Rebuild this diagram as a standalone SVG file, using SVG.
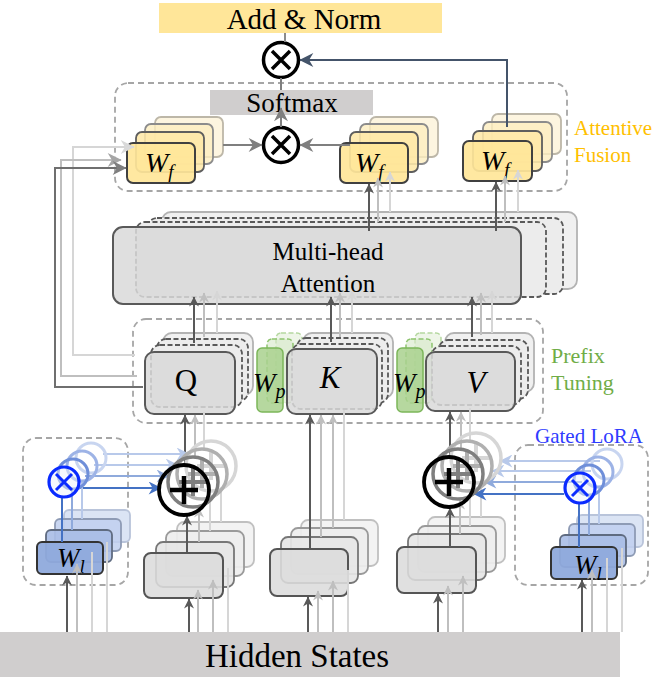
<svg xmlns="http://www.w3.org/2000/svg" width="665" height="683" viewBox="0 0 665 683">
<defs>
<style>
text{font-family:"Liberation Serif","Times New Roman",serif;}
.it{font-style:italic;}
.frg{fill:#d9d9d9;fill-opacity:.85;stroke:#595959;stroke-width:2;}
.dsh{fill:#ececec;stroke:#595959;stroke-width:1.8;stroke-dasharray:5 2.5;}
.bk4{fill:#f0f0f0;stroke:#b3b3b3;stroke-width:1.8;}
.g1{fill:#dcdcdc;fill-opacity:.88;stroke:#555;stroke-width:2;}
.g2{fill:#e6e6e6;fill-opacity:.9;stroke:#777;stroke-width:1.8;}
.g3{fill:#ededed;fill-opacity:.9;stroke:#9a9a9a;stroke-width:1.8;}
.g4{fill:#f3f3f3;stroke:#c0c0c0;stroke-width:1.8;}
.y1{fill:#ffe699;fill-opacity:.92;stroke:#404040;stroke-width:2;}
.y2{fill:#fee8a6;fill-opacity:.85;stroke:#5e5e5e;stroke-width:1.8;}
.y3{fill:#fdeebf;fill-opacity:.8;stroke:#8c8c8c;stroke-width:1.8;}
.y4{fill:#fdf3d8;fill-opacity:.8;stroke:#bdb7a8;stroke-width:1.8;}
.b1{fill:#8faadc;fill-opacity:.95;stroke:#333;stroke-width:2;}
.b2{fill:#a8bde6;fill-opacity:.9;stroke:#5f6b80;stroke-width:1.8;}
.b3{fill:#c0cfee;fill-opacity:.85;stroke:#8e9bb5;stroke-width:1.8;}
.b4{fill:#dbe4f4;stroke:#b9c4da;stroke-width:1.8;}
.ln{fill:none;stroke-width:2;}
.dk{stroke:#595959;}
.lt{stroke:#bfbfbf;}
.lt2{stroke:#d6d6d6;}
.gy{stroke:#7f7f7f;}
.bl{stroke:#4472c4;}
.bl2{stroke:#8faadc;}
.bl3{stroke:#b8c9ea;}
.grp{fill:none;stroke:#a6a6a6;stroke-width:1.8;stroke-dasharray:6 4;}
</style>
<marker id="mD" viewBox="0 0 10 10" refX="9.5" refY="5" markerWidth="11" markerHeight="10" orient="auto" markerUnits="userSpaceOnUse"><path d="M0,0 L10,5 L0,10 L3,5z" fill="#595959"/></marker>
<marker id="mL" viewBox="0 0 10 10" refX="9.5" refY="5" markerWidth="11" markerHeight="10" orient="auto" markerUnits="userSpaceOnUse"><path d="M0,0 L10,5 L0,10 L3,5z" fill="#bfbfbf"/></marker>
<marker id="mL2" viewBox="0 0 10 10" refX="9.5" refY="5" markerWidth="11" markerHeight="10" orient="auto" markerUnits="userSpaceOnUse"><path d="M0,0 L10,5 L0,10 L3,5z" fill="#d6d6d6"/></marker>
<marker id="mG" viewBox="0 0 10 10" refX="9.5" refY="5" markerWidth="15" markerHeight="14" orient="auto" markerUnits="userSpaceOnUse"><path d="M0,0 L10,5 L0,10 L3,5z" fill="#7f7f7f"/></marker>
<marker id="mGL" viewBox="0 0 10 10" refX="9.5" refY="5" markerWidth="15" markerHeight="14" orient="auto" markerUnits="userSpaceOnUse"><path d="M0,0 L10,5 L0,10 L3,5z" fill="#a6a6a6"/></marker>
<marker id="mGLL" viewBox="0 0 10 10" refX="9.5" refY="5" markerWidth="15" markerHeight="14" orient="auto" markerUnits="userSpaceOnUse"><path d="M0,0 L10,5 L0,10 L3,5z" fill="#d9d9d9"/></marker>
<marker id="mS" viewBox="0 0 10 10" refX="9.5" refY="5" markerWidth="15" markerHeight="14" orient="auto" markerUnits="userSpaceOnUse"><path d="M0,0 L10,5 L0,10 L3,5z" fill="#44546a"/></marker>
<marker id="mB" viewBox="0 0 10 10" refX="9.5" refY="5" markerWidth="14" markerHeight="13" orient="auto" markerUnits="userSpaceOnUse"><path d="M0,0 L10,5 L0,10 L3,5z" fill="#4472c4"/></marker>
<marker id="mB2" viewBox="0 0 10 10" refX="9.5" refY="5" markerWidth="14" markerHeight="13" orient="auto" markerUnits="userSpaceOnUse"><path d="M0,0 L10,5 L0,10 L3,5z" fill="#8faadc"/></marker>
<marker id="mB3" viewBox="0 0 10 10" refX="9.5" refY="5" markerWidth="14" markerHeight="13" orient="auto" markerUnits="userSpaceOnUse"><path d="M0,0 L10,5 L0,10 L3,5z" fill="#b8c9ea"/></marker>
</defs>
<rect width="665" height="683" fill="#ffffff"/>

<!-- group backgrounds -->
<g id="attentive-fusion">
<rect x="115" y="83" width="452" height="108" rx="13" fill="#fef6e2" class="grp"/>
<text x="574" y="135" font-size="21" fill="#ffc000">Attentive</text>
<text x="574" y="162" font-size="21" fill="#ffc000">Fusion</text>
</g>
<g id="prefix-tuning">
<rect x="133" y="319" width="410" height="104" rx="13" fill="#eef5e9" class="grp"/>
<text x="551" y="363" font-size="22" fill="#70ad47">Prefix</text>
<text x="551" y="390" font-size="22" fill="#70ad47">Tuning</text>
</g>
<g id="gated-lora-left">
<rect x="23" y="438" width="105" height="147" rx="13" fill="#ebf2fb" class="grp"/>
</g>
<g id="gated-lora-right">
<rect x="515" y="445" width="133" height="140" rx="13" fill="#ebf2fb" class="grp"/>
<text x="535" y="443" font-size="21" fill="#2f3cff">Gated LoRA</text>
</g>

<!-- Hidden states -->
<g id="hidden-states">
<rect x="0" y="632" width="620" height="45" fill="#d0cece"/>
<text x="297" y="667" font-size="33" text-anchor="middle" fill="#000">Hidden States</text>
</g>

<!-- Add & Norm -->
<g id="add-norm">
<rect x="159" y="3" width="283" height="30" fill="#ffe699"/>
<text x="304" y="29" font-size="29" text-anchor="middle" fill="#000">Add &amp; Norm</text>
</g>

<!-- Softmax -->
<g id="softmax">
<rect x="210" y="90" width="163" height="25" fill="#d0cece"/>
<text x="292" y="112" font-size="27" text-anchor="middle" fill="#000">Softmax</text>
</g>

<!-- multiply circles -->
<g id="mul-top">
<circle cx="281" cy="60" r="17.5" fill="#fff" stroke="#000" stroke-width="3.5"/>
<path d="M272,51 L290,69 M290,51 L272,69" stroke="#000" stroke-width="3.5"/>
</g>
<g id="mul-mid">
<circle cx="281" cy="145" r="17.5" fill="#fff" stroke="#000" stroke-width="3.5"/>
<path d="M272,136 L290,154 M290,136 L272,154" stroke="#000" stroke-width="3.5"/>
</g>

<!-- W_f stacks -->
<g id="wf-1">
<rect x="155" y="117" width="68" height="40" rx="6" class="y4"/>
<rect x="145" y="124" width="68" height="40" rx="6" class="y3"/>
<rect x="136" y="132" width="68" height="40" rx="6" class="y2"/>
<rect x="127" y="143" width="68" height="40" rx="6" class="y1"/>
<text x="145" y="172" font-size="28" class="it">W<tspan font-size="19" dy="6">f</tspan></text>
</g>
<g id="wf-2">
<rect x="370" y="117" width="68" height="40" rx="6" class="y4"/>
<rect x="360" y="124" width="68" height="40" rx="6" class="y3"/>
<rect x="350" y="132" width="68" height="40" rx="6" class="y2"/>
<rect x="340" y="143" width="68" height="40" rx="6" class="y1"/>
<text x="355" y="172" font-size="28" class="it">W<tspan font-size="19" dy="6">f</tspan></text>
</g>
<g id="wf-3">
<rect x="492" y="114" width="69" height="40" rx="6" class="y4"/>
<rect x="483" y="122" width="69" height="40" rx="6" class="y3"/>
<rect x="473" y="131" width="69" height="40" rx="6" class="y2"/>
<rect x="463" y="141" width="69" height="40" rx="6" class="y1"/>
<text x="481" y="170" font-size="28" class="it">W<tspan font-size="19" dy="6">f</tspan></text>
</g>

<!-- Multi-head attention -->
<g id="mha">
<rect x="162" y="212" width="415" height="77" rx="9" class="bk4"/>
<rect x="148" y="218" width="415" height="76" rx="9" class="dsh"/>
<rect x="136" y="222" width="410" height="75" rx="9" class="dsh"/>
<rect x="113" y="227" width="408" height="77" rx="10" class="frg"/>
<text x="328" y="260" font-size="25" text-anchor="middle">Multi-head</text>
<text x="328" y="292" font-size="25" text-anchor="middle">Attention</text>
</g>

<!-- Q K V -->
<g id="q">
<rect x="163" y="333" width="90" height="62" rx="9" class="bk4"/>
<rect x="157" y="339" width="91" height="62" rx="9" class="dsh"/>
<rect x="151" y="345" width="91" height="62" rx="9" class="dsh"/>
<rect x="145" y="352" width="90" height="62" rx="9" class="frg"/>
<text x="186" y="391" font-size="31" text-anchor="middle">Q</text>
</g>
<g id="wp-1">
<rect x="276" y="333" width="26" height="64" rx="5" fill="#e2efd9" fill-opacity=".6" stroke="#b5d8a0" stroke-width="1.5" stroke-dasharray="5 2.5"/>
<rect x="267" y="339" width="26" height="64" rx="5" fill="#d5e8c8" fill-opacity=".6" stroke="#8ec46f" stroke-width="1.5" stroke-dasharray="5 2.5"/>
<rect x="257" y="348" width="26" height="64" rx="5" fill="#a9d18e" fill-opacity=".85" stroke="#7cb65a" stroke-width="1.5"/>
</g>
<g id="k">
<rect x="303" y="333" width="90" height="65" rx="9" class="bk4"/>
<rect x="297" y="338" width="91" height="65" rx="9" class="dsh"/>
<rect x="292" y="344" width="90" height="65" rx="9" class="dsh"/>
<rect x="287" y="349" width="90" height="65" rx="9" class="frg"/>
<text x="330" y="388" font-size="31" text-anchor="middle" class="it">K</text>
</g>
<g id="wp-2">
<rect x="415" y="333" width="26" height="64" rx="5" fill="#e2efd9" fill-opacity=".6" stroke="#b5d8a0" stroke-width="1.5" stroke-dasharray="5 2.5"/>
<rect x="406" y="339" width="26" height="64" rx="5" fill="#d5e8c8" fill-opacity=".6" stroke="#8ec46f" stroke-width="1.5" stroke-dasharray="5 2.5"/>
<rect x="397" y="348" width="26" height="64" rx="5" fill="#a9d18e" fill-opacity=".85" stroke="#7cb65a" stroke-width="1.5"/>
</g>
<g id="v">
<rect x="445" y="333" width="89" height="59" rx="9" class="bk4"/>
<rect x="439" y="340" width="89" height="59" rx="9" class="dsh"/>
<rect x="432" y="346" width="89" height="59" rx="9" class="dsh"/>
<rect x="426" y="352" width="89" height="59" rx="9" class="frg"/>
<text x="476" y="393" font-size="31" text-anchor="middle" class="it">V</text>
</g>
<g id="wp-labels">
<text x="253" y="392" font-size="27" class="it">W<tspan font-size="20" dy="6">p</tspan></text>
<text x="393" y="392" font-size="27" class="it">W<tspan font-size="20" dy="6">p</tspan></text>
</g>

<!-- bottom gray stacks -->
<g id="proj-q">
<rect x="177" y="522" width="77" height="45" rx="7" class="g4"/>
<rect x="166" y="531" width="78" height="45" rx="7" class="g3"/>
<rect x="156" y="542" width="78" height="45" rx="7" class="g2"/>
<rect x="144" y="553" width="79" height="45" rx="7" class="g1"/>
</g>
<g id="proj-k">
<rect x="301" y="520" width="77" height="46" rx="7" class="g4"/>
<rect x="291" y="528" width="77" height="46" rx="7" class="g3"/>
<rect x="281" y="537" width="77" height="46" rx="7" class="g2"/>
<rect x="270" y="549" width="78" height="47" rx="7" class="g1"/>
</g>
<g id="proj-v">
<rect x="428" y="517" width="77" height="46" rx="7" class="g4"/>
<rect x="418" y="526" width="78" height="46" rx="7" class="g3"/>
<rect x="408" y="534" width="78" height="46" rx="7" class="g2"/>
<rect x="397" y="547" width="79" height="46" rx="7" class="g1"/>
</g>

<!-- W_l stacks -->
<g id="wl-left">
<rect x="64" y="510" width="66" height="32" rx="5" class="b4"/>
<rect x="55" y="519" width="66" height="32" rx="5" class="b3"/>
<rect x="46" y="530" width="66" height="32" rx="5" class="b2"/>
<rect x="37" y="542" width="66" height="32" rx="5" class="b1"/>
<text x="57" y="567" font-size="27" class="it">W<tspan font-size="19" dy="6">l</tspan></text>
</g>
<g id="wl-right">
<rect x="577" y="515" width="66" height="32" rx="5" class="b4"/>
<rect x="569" y="524" width="66" height="32" rx="5" class="b3"/>
<rect x="560" y="535" width="66" height="32" rx="5" class="b2"/>
<rect x="551" y="547" width="66" height="32" rx="5" class="b1"/>
<text x="574" y="574" font-size="27" class="it">W<tspan font-size="19" dy="6">l</tspan></text>
</g>

<!-- connectors -->
<g id="connectors" class="ln">
<!-- hidden states up -->
<line x1="67" y1="632" x2="67" y2="576" class="ln dk" marker-end="url(#mD)"/>
<line x1="77" y1="632" x2="77" y2="564" class="ln lt" marker-end="url(#mL)"/>
<line x1="92" y1="632" x2="92" y2="552" class="ln lt2"/>
<line x1="107" y1="632" x2="107" y2="542" class="ln lt2"/>
<line x1="189" y1="632" x2="189" y2="599" class="ln dk" marker-end="url(#mD)"/>
<line x1="198" y1="632" x2="198" y2="590" class="ln lt" marker-end="url(#mL)"/>
<line x1="213" y1="632" x2="213" y2="580" class="ln lt" marker-end="url(#mL)"/>
<line x1="228" y1="632" x2="228" y2="568" class="ln lt2"/>
<line x1="308" y1="632" x2="308" y2="597" class="ln dk" marker-end="url(#mD)"/>
<line x1="318" y1="632" x2="318" y2="591" class="ln lt" marker-end="url(#mL)"/>
<line x1="333" y1="632" x2="333" y2="581" class="ln lt" marker-end="url(#mL)"/>
<line x1="348" y1="632" x2="348" y2="570" class="ln lt2"/>
<line x1="438" y1="632" x2="438" y2="594" class="ln dk" marker-end="url(#mD)"/>
<line x1="448" y1="632" x2="448" y2="586" class="ln lt" marker-end="url(#mL)"/>
<line x1="463" y1="632" x2="463" y2="576" class="ln lt" marker-end="url(#mL)"/>
<line x1="582" y1="632" x2="582" y2="580" class="ln dk" marker-end="url(#mD)"/>
<line x1="592" y1="632" x2="592" y2="570" class="ln lt" marker-end="url(#mL)"/>
<line x1="607" y1="632" x2="607" y2="558" class="ln lt2"/>
<line x1="622" y1="632" x2="622" y2="548" class="ln lt2"/>
<!-- stacks to plus -->
<line x1="187" y1="552" x2="187" y2="516" class="ln dk" marker-end="url(#mD)"/>
<line x1="199" y1="542" x2="199" y2="508" class="ln lt" marker-end="url(#mL)"/>
<line x1="210" y1="531" x2="210" y2="500" class="ln lt2"/>
<line x1="221" y1="522" x2="221" y2="492" class="ln lt2"/>
<line x1="450" y1="547" x2="450" y2="508" class="ln dk" marker-end="url(#mD)"/>
<line x1="460" y1="534" x2="460" y2="500" class="ln lt" marker-end="url(#mL)"/>
<line x1="470" y1="526" x2="470" y2="490" class="ln lt2"/>
<line x1="481" y1="517" x2="481" y2="482" class="ln lt2"/>
<!-- K stack to K -->
<line x1="310" y1="548" x2="310" y2="415" class="ln dk" marker-end="url(#mD)"/>
<line x1="321" y1="537" x2="321" y2="415" class="ln lt" marker-end="url(#mL)"/>
<line x1="333" y1="528" x2="333" y2="415" class="ln lt" marker-end="url(#mL)"/>
<line x1="344" y1="520" x2="344" y2="410" class="ln lt2"/>
<!-- plus to Q / V -->
<line x1="185" y1="464" x2="185" y2="415" class="ln dk" marker-end="url(#mD)"/>
<line x1="195" y1="456" x2="195" y2="415" class="ln lt" marker-end="url(#mL)"/>
<line x1="204" y1="448" x2="204" y2="412" class="ln lt2"/>
<line x1="450" y1="456" x2="450" y2="412" class="ln dk" marker-end="url(#mD)"/>
<line x1="461" y1="448" x2="461" y2="412" class="ln lt" marker-end="url(#mL)"/>
<line x1="470" y1="440" x2="470" y2="408" class="ln lt2"/>
<!-- QKV to MHA -->
<line x1="194" y1="343" x2="194" y2="297" class="ln dk" marker-end="url(#mD)"/>
<line x1="204" y1="337" x2="204" y2="293" class="ln lt" marker-end="url(#mL)"/>
<line x1="217" y1="333" x2="217" y2="291" class="ln lt2" marker-end="url(#mL2)"/>
<line x1="331" y1="342" x2="331" y2="297" class="ln dk" marker-end="url(#mD)"/>
<line x1="340" y1="337" x2="340" y2="293" class="ln lt" marker-end="url(#mL)"/>
<line x1="352" y1="333" x2="352" y2="291" class="ln lt2" marker-end="url(#mL2)"/>
<line x1="472" y1="337" x2="472" y2="297" class="ln dk" marker-end="url(#mD)"/>
<line x1="481" y1="335" x2="481" y2="293" class="ln lt" marker-end="url(#mL)"/>
<line x1="492" y1="333" x2="492" y2="291" class="ln lt2" marker-end="url(#mL2)"/>
<!-- MHA to W_f -->
<line x1="369" y1="231" x2="369" y2="184" class="ln dk" marker-end="url(#mD)"/>
<line x1="378" y1="222" x2="378" y2="178" class="ln lt" marker-end="url(#mL)"/>
<line x1="390" y1="212" x2="390" y2="172" class="ln lt2" marker-end="url(#mL2)"/>
<line x1="496" y1="231" x2="496" y2="182" class="ln dk" marker-end="url(#mD)"/>
<line x1="505" y1="222" x2="505" y2="176" class="ln lt" marker-end="url(#mL)"/>
<line x1="518" y1="212" x2="518" y2="170" class="ln lt2" marker-end="url(#mL2)"/>
<!-- Q side loop to W_f1 -->
<polyline points="135,355 73,355 73,147 134,147" class="ln lt2" marker-end="url(#mGLL)"/>
<polyline points="137,376 61,376 61,160 121,160" class="ln lt" stroke="#a6a6a6" marker-end="url(#mGL)"/>
<polyline points="143,387 55,387 55,168 126,168" class="ln" stroke="#6f6f6f" marker-end="url(#mG)"/>
<!-- W_f to mul -->
<line x1="223" y1="145" x2="262" y2="145" class="ln gy" marker-end="url(#mG)"/>
<line x1="350" y1="145" x2="300" y2="145" class="ln gy" marker-end="url(#mG)"/>
<line x1="281" y1="127" x2="281" y2="108" class="ln gy" marker-end="url(#mG)"/>
<line x1="281" y1="78" x2="281" y2="90" class="ln gy"/>
<line x1="285" y1="33" x2="285" y2="42" class="ln" stroke="#8c8c8c" stroke-width="1.5"/>
<polyline points="507,127 507,60 300,60" class="ln" stroke="#44546a" marker-end="url(#mS)"/>
<!-- gated lora arrows -->
<line x1="103" y1="454" x2="189" y2="454" class="ln bl3" marker-end="url(#mB3)"/>
<line x1="94" y1="465" x2="178" y2="465" class="ln bl3" marker-end="url(#mB3)"/>
<line x1="85" y1="476" x2="169" y2="476" class="ln bl2" marker-end="url(#mB2)"/>
<line x1="79" y1="488" x2="161" y2="488" class="ln bl" marker-end="url(#mB)"/>
<line x1="600" y1="461" x2="500" y2="461" class="ln bl3" marker-end="url(#mB3)"/>
<line x1="591" y1="471" x2="492" y2="471" class="ln bl3" marker-end="url(#mB3)"/>
<line x1="582" y1="482" x2="484" y2="482" class="ln bl2" marker-end="url(#mB2)"/>
<line x1="564" y1="494" x2="474" y2="494" class="ln bl" marker-end="url(#mB)"/>
<line x1="62" y1="497" x2="62" y2="542" class="ln bl"/>
<line x1="72" y1="490" x2="72" y2="530" class="ln bl2"/>
<line x1="82" y1="482" x2="82" y2="519" class="ln bl3"/>
<line x1="579" y1="504" x2="579" y2="547" class="ln bl"/>
<line x1="589" y1="496" x2="589" y2="535" class="ln bl2"/>
<line x1="599" y1="488" x2="599" y2="524" class="ln bl3"/>
</g>

<!-- plus circles -->
<g id="add-left" fill="none">
<circle cx="211" cy="466" r="25" stroke="#d6d6d6" stroke-width="3.5"/>
<path d="M197,466 H225 M211,452 V480" stroke="#d6d6d6" stroke-width="4"/>
<circle cx="202" cy="474" r="25" stroke="#b0b0b0" stroke-width="3.5"/>
<path d="M188,474 H216 M202,460 V488" stroke="#b0b0b0" stroke-width="4"/>
<circle cx="193" cy="482" r="25" stroke="#7f7f7f" stroke-width="3.5"/>
<path d="M179,482 H207 M193,468 V496" stroke="#7f7f7f" stroke-width="4"/>
<circle cx="184" cy="490" r="25" stroke="#000" stroke-width="3.8"/>
<path d="M170,490 H198 M184,476 V504" stroke="#000" stroke-width="4.5"/>
</g>
<g id="add-right" fill="none">
<circle cx="476" cy="458" r="25" stroke="#d6d6d6" stroke-width="3.5"/>
<path d="M462,458 H490 M476,444 V472" stroke="#d6d6d6" stroke-width="4"/>
<circle cx="467" cy="466" r="25" stroke="#b0b0b0" stroke-width="3.5"/>
<path d="M453,466 H481 M467,452 V480" stroke="#b0b0b0" stroke-width="4"/>
<circle cx="458" cy="474" r="25" stroke="#7f7f7f" stroke-width="3.5"/>
<path d="M444,474 H472 M458,460 V488" stroke="#7f7f7f" stroke-width="4"/>
<circle cx="449" cy="482" r="25" stroke="#000" stroke-width="3.8"/>
<path d="M435,482 H463 M449,468 V496" stroke="#000" stroke-width="4.5"/>
</g>

<!-- gate circles -->
<g id="gate-left" fill="none">
<circle cx="91" cy="458" r="15" stroke="#c8d5f0" stroke-width="3"/>
<circle cx="82" cy="466" r="15" stroke="#9db3e6" stroke-width="3"/>
<circle cx="73" cy="474" r="15" stroke="#6f8fd9" stroke-width="3"/>
<circle cx="64" cy="482" r="15" stroke="#0a2bff" stroke-width="3.2" fill="#ebf2fb" fill-opacity=".5"/>
<path d="M56,474 L72,490 M72,474 L56,490" stroke="#0a2bff" stroke-width="3"/>
</g>
<g id="gate-right" fill="none">
<circle cx="607" cy="464" r="15" stroke="#c8d5f0" stroke-width="3"/>
<circle cx="598" cy="472" r="15" stroke="#9db3e6" stroke-width="3"/>
<circle cx="589" cy="480" r="15" stroke="#6f8fd9" stroke-width="3"/>
<circle cx="580" cy="488" r="15" stroke="#0a2bff" stroke-width="3.2" fill="#ebf2fb" fill-opacity=".5"/>
<path d="M572,480 L588,496 M588,480 L572,496" stroke="#0a2bff" stroke-width="3"/>
</g>
</svg>
